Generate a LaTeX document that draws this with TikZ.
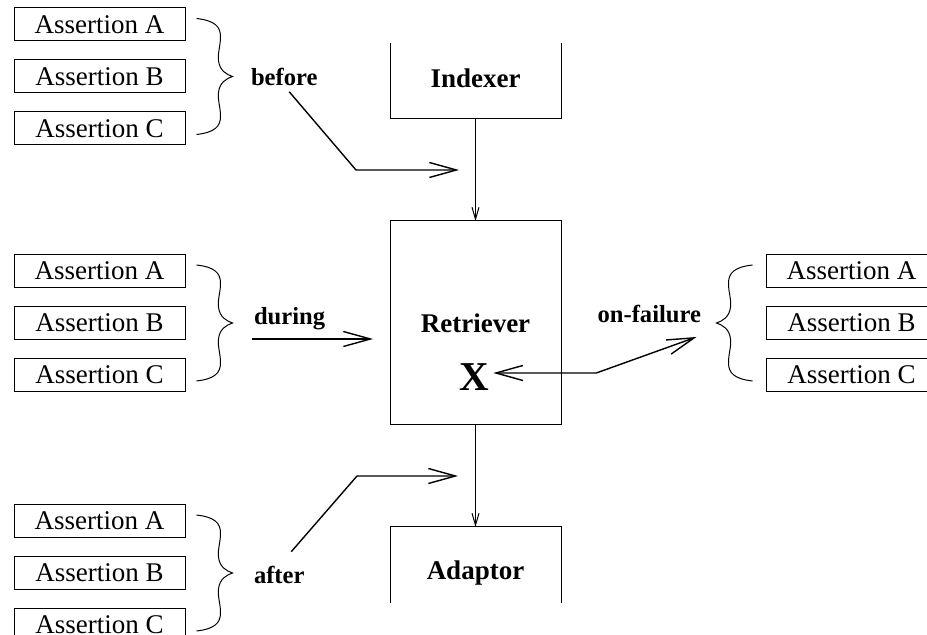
\documentclass[tikz,border=0pt]{standalone}
\usepackage{fontspec}
\setmainfont{Liberation Serif}
\usetikzlibrary{positioning}
\usetikzlibrary{calc}
\usetikzlibrary{arrows.meta}
\tikzset{
    % Thin open head for the links between the parts
    >={Straight Barb[length=6pt, width=3.5pt]},
    % and a big one for the assertion hooks
    barb/.tip={Straight Barb[length=13.5pt, width=7.5pt]},
    flow/.style={line width=0.7pt, -barb},
%
    % Curly brace, tip at the origin pointing right
    curly/.pic={
        \draw (-36,-58) .. controls (-18,-56) and (-12,-50) .. (-12,-40)
            .. controls (-12,-30) and (-15,-24) .. (-14,-16)
            .. controls (-13,-6) and (-6,-2) .. (0,0)
            .. controls (-6,2) and (-13,6) .. (-14,16)
            .. controls (-15,24) and (-12,30) .. (-12,40)
            .. controls (-12,50) and (-18,56) .. (-36,58);
        \coordinate (-tip) at (0,0);
    },
    every node/.style={align=center},
}

\begin{document}
\begin{tikzpicture}[
    assertion/.style={draw, minimum width=85.5pt, minimum height=16.5pt,
        inner sep=0pt, font=\fontsize{13.5}{16}\selectfont},
    part/.style={minimum width=85.5pt, inner sep=0pt, outer sep=0pt,
        font=\fontsize{13.5}{16}\selectfont\bfseries},
    tag/.style={inner sep=1pt, font=\fontsize{12.3}{14}\selectfont\bfseries},
    fault/.style={inner sep=2pt, font=\fontsize{20.5}{24}\selectfont\bfseries},
    x=0.5pt, y=-0.5pt, line width=0.5pt,
]
\useasboundingbox (0,0) rectangle (927,635);

% the three parts
\path
    (475.5,81) node [part, minimum height=38pt, text depth=3pt] (indexer) {Indexer}
    ++(0,242) node [part, draw, minimum height=102pt] (retriever) {Retriever}
    ++(0,242) node [part, minimum height=38pt, text height=17pt] (adaptor) {Adaptor};
\node [fault] (fault) at ([shift={(-1.5,54)}]retriever.center) {X};

\draw (indexer.north west) -- (indexer.south west)
    -- (indexer.south east) -- (indexer.north east);
\draw (adaptor.south west) -- (adaptor.north west)
    -- (adaptor.north east) -- (adaptor.south east);

\draw [->] (indexer) -- (retriever);
\draw [->] (retriever) -- (adaptor);

% assertion groups
\node [assertion] (pre b) at (99.5,76.5) {Assertion B};
\node [assertion, above=9pt of pre b] (pre a) {Assertion A};
\node [assertion, below=9pt of pre b] (pre c) {Assertion C};

\node [assertion] (in b) at (99.5,323) {Assertion B};
\node [assertion, above=9pt of in b] (in a) {Assertion A};
\node [assertion, below=9pt of in b] (in c) {Assertion C};

\node [assertion] (post b) at (99.5,573) {Assertion B};
\node [assertion, above=9pt of post b] (post a) {Assertion A};
\node [assertion, below=9pt of post b] (post c) {Assertion C};

\node [assertion] (fail b) at (851.5,323) {Assertion B};
\node [assertion, above=9pt of fail b] (fail a) {Assertion A};
\node [assertion, below=9pt of fail b] (fail c) {Assertion C};

\pic (pre brace) at ([xshift=23.5pt]pre b.east) {curly};
\pic (in brace) at ([xshift=23.5pt]in b.east) {curly};
\pic (post brace) at ([xshift=23.5pt]post b.east) {curly};
\pic [xscale=-1] (fail brace) at ([xshift=-24.5pt]fail b.west) {curly};

\node [tag, anchor=west] (before) at ([shift={(16,0)}]pre brace-tip) {before};
\node [tag, anchor=west] (during) at ([shift={(19,-4)}]in brace-tip) {during};
\node [tag, anchor=west] (after) at ([shift={(19,2)}]post brace-tip) {after};
\node [tag, anchor=east] (failure) at ([shift={(-13,-9)}]fail brace-tip) {on-failure};

% hooks into the retriever
\coordinate (before tip) at ($(indexer.south)!0.5!(retriever.north)+(-16.5,0)$);
\coordinate (during tip) at ([shift={(-17,16)}]retriever.west);
\coordinate (after tip) at ($(retriever.south)!0.5!(adaptor.north)+(-17.5,0)$);

\draw [flow] ([shift={(5,4)}]before.south)
    -- ($(before tip)+(-103,0)$) -- (before tip);
\draw [flow] (during tip -| during.west) -- (during tip);
\draw [flow] ([shift={(12,-12)}]after.north)
    -- ($(after tip)+(-101,0)$) -- (after tip);
\draw [flow, barb-barb] ([yshift=2pt]fault.east) -- ++(103,0)
    -- ([shift={(-20,14)}]fail brace-tip);

\end{tikzpicture}
\end{document}
